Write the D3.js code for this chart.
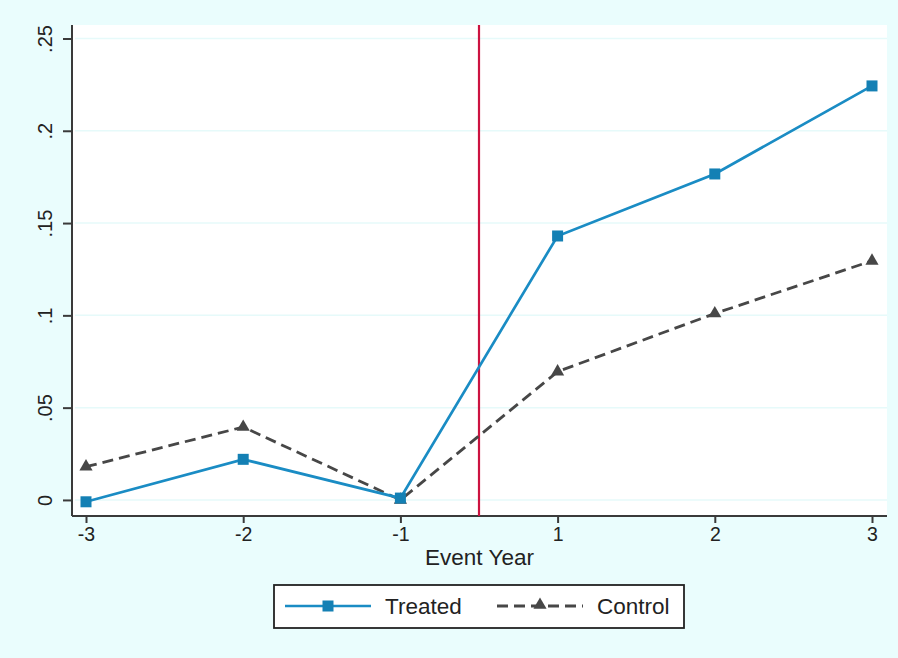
<!DOCTYPE html>
<html>
<head>
<meta charset="utf-8">
<script src="https://cdn.jsdelivr.net/npm/d3@7"></script>
<style>
  html, body { margin: 0; padding: 0; background: #eafdfd; }
  svg { display: block; font-family: "Liberation Sans", Arial, sans-serif; }
</style>
</head>
<body>
<div id="chart"></div>
<script>
// Event years (0 is omitted, points are evenly spaced)
const years = ["-3", "-2", "-1", "1", "2", "3"];
const treated = [-0.001, 0.022, 0.001, 0.143, 0.1766, 0.2243];
const control = [0.018, 0.0395, 0.000, 0.0695, 0.101, 0.1295];
const yTicks = [0, 0.05, 0.1, 0.15, 0.2, 0.25];
const yTickLabels = ["0", ".05", ".1", ".15", ".2", ".25"];

const width = 898, height = 658;
const plot = { left: 72, right: 887, top: 25, bottom: 516 };

const svg = d3.select("#chart").append("svg")
    .attr("width", width)
    .attr("height", height);

svg.append("rect")
    .attr("width", width).attr("height", height)
    .attr("fill", "#eafdfd");

// plot region
svg.append("rect")
    .attr("x", plot.left).attr("y", plot.top)
    .attr("width", plot.right - plot.left)
    .attr("height", plot.bottom - plot.top)
    .attr("fill", "#ffffff");

const x = d3.scalePoint()
    .domain(years)
    .range([86, 872]);

const y = d3.scaleLinear()
    .domain([-0.0087, 0.2573])
    .range([plot.bottom, plot.top]);

// grid lines
svg.append("g")
    .selectAll("line")
    .data(yTicks)
    .join("line")
    .attr("x1", plot.left + 3)
    .attr("x2", plot.right)
    .attr("y1", d => y(d))
    .attr("y2", d => y(d))
    .attr("stroke", "#e6fafa")
    .attr("stroke-width", 1.5);

// y axis
const yAxis = d3.axisLeft(y)
    .tickValues(yTicks)
    .tickSize(9)
    .tickPadding(10)
    .tickFormat((d, i) => yTickLabels[i]);

const gy = svg.append("g")
    .attr("transform", `translate(${plot.left},0)`)
    .call(yAxis);
gy.select(".domain")
    .attr("d", `M0,${plot.top}V${plot.bottom}`)
    .attr("stroke", "#3a3a3a")
    .attr("stroke-width", 2);
gy.selectAll(".tick line").attr("stroke", "#3a3a3a").attr("stroke-width", 2);
gy.selectAll(".tick text")
    .attr("x", null).attr("dy", null)
    .attr("transform", "translate(-20,0) rotate(-90)")
    .attr("text-anchor", "middle")
    .attr("fill", "#222")
    .style("font-size", "20px");

// x axis
const xAxis = d3.axisBottom(x)
    .tickSize(7)
    .tickPadding(4);

const gx = svg.append("g")
    .attr("transform", `translate(0,${plot.bottom})`)
    .call(xAxis);
gx.select(".domain")
    .attr("d", `M${plot.left},0H${plot.right}`)
    .attr("stroke", "#3a3a3a")
    .attr("stroke-width", 2);
gx.selectAll(".tick line").attr("stroke", "#3a3a3a").attr("stroke-width", 2);
gx.selectAll(".tick text")
    .attr("fill", "#222")
    .style("font-size", "19.5px");

svg.append("text")
    .attr("x", (plot.left + plot.right) / 2)
    .attr("y", 565)
    .attr("text-anchor", "middle")
    .attr("fill", "#222")
    .style("font-size", "22.5px")
    .text("Event Year");

// event line between -1 and 1
const eventX = (x("-1") + x("1")) / 2;
svg.append("line")
    .attr("x1", eventX).attr("x2", eventX)
    .attr("y1", plot.top).attr("y2", plot.bottom)
    .attr("stroke", "#cc1340")
    .attr("stroke-width", 2.2);

const line = d3.line()
    .x((d, i) => x(years[i]))
    .y(d => y(d));

const blue = "#1a8cc4", blueMark = "#1480b4";
const grey = "#474747";

// control series
svg.append("path")
    .datum(control)
    .attr("d", line)
    .attr("fill", "none")
    .attr("stroke", grey)
    .attr("stroke-width", 2.8)
    .attr("stroke-dasharray", "11,6");

const tri = d3.symbol().type(d3.symbolTriangle).size(75);
svg.append("g")
    .selectAll("path")
    .data(control)
    .join("path")
    .attr("d", tri)
    .attr("transform", (d, i) => `translate(${x(years[i])},${y(d)})`)
    .attr("fill", grey);

// treated series
svg.append("path")
    .datum(treated)
    .attr("d", line)
    .attr("fill", "none")
    .attr("stroke", blue)
    .attr("stroke-width", 2.7);

svg.append("g")
    .selectAll("rect")
    .data(treated)
    .join("rect")
    .attr("x", (d, i) => x(years[i]) - 5.5)
    .attr("y", d => y(d) - 5.5)
    .attr("width", 11)
    .attr("height", 11)
    .attr("fill", blueMark);

// legend
const legend = svg.append("g");
legend.append("rect")
    .attr("x", 274).attr("y", 585)
    .attr("width", 410).attr("height", 43)
    .attr("fill", "#ffffff")
    .attr("stroke", "#222")
    .attr("stroke-width", 1.8);

legend.append("line")
    .attr("x1", 285).attr("x2", 371)
    .attr("y1", 606).attr("y2", 606)
    .attr("stroke", blue).attr("stroke-width", 2.7);
legend.append("rect")
    .attr("x", 322.5).attr("y", 600.5)
    .attr("width", 11).attr("height", 11)
    .attr("fill", blueMark);
legend.append("text")
    .attr("x", 385).attr("y", 614)
    .attr("fill", "#222")
    .style("font-size", "22.5px")
    .text("Treated");

legend.append("line")
    .attr("x1", 497).attr("x2", 583)
    .attr("y1", 606).attr("y2", 606)
    .attr("stroke", grey).attr("stroke-width", 2.8)
    .attr("stroke-dasharray", "11,6");
legend.append("path")
    .attr("d", tri)
    .attr("transform", "translate(540,605)")
    .attr("fill", grey);
legend.append("text")
    .attr("x", 597).attr("y", 614)
    .attr("fill", "#222")
    .style("font-size", "22.5px")
    .text("Control");
</script>
</body>
</html>
